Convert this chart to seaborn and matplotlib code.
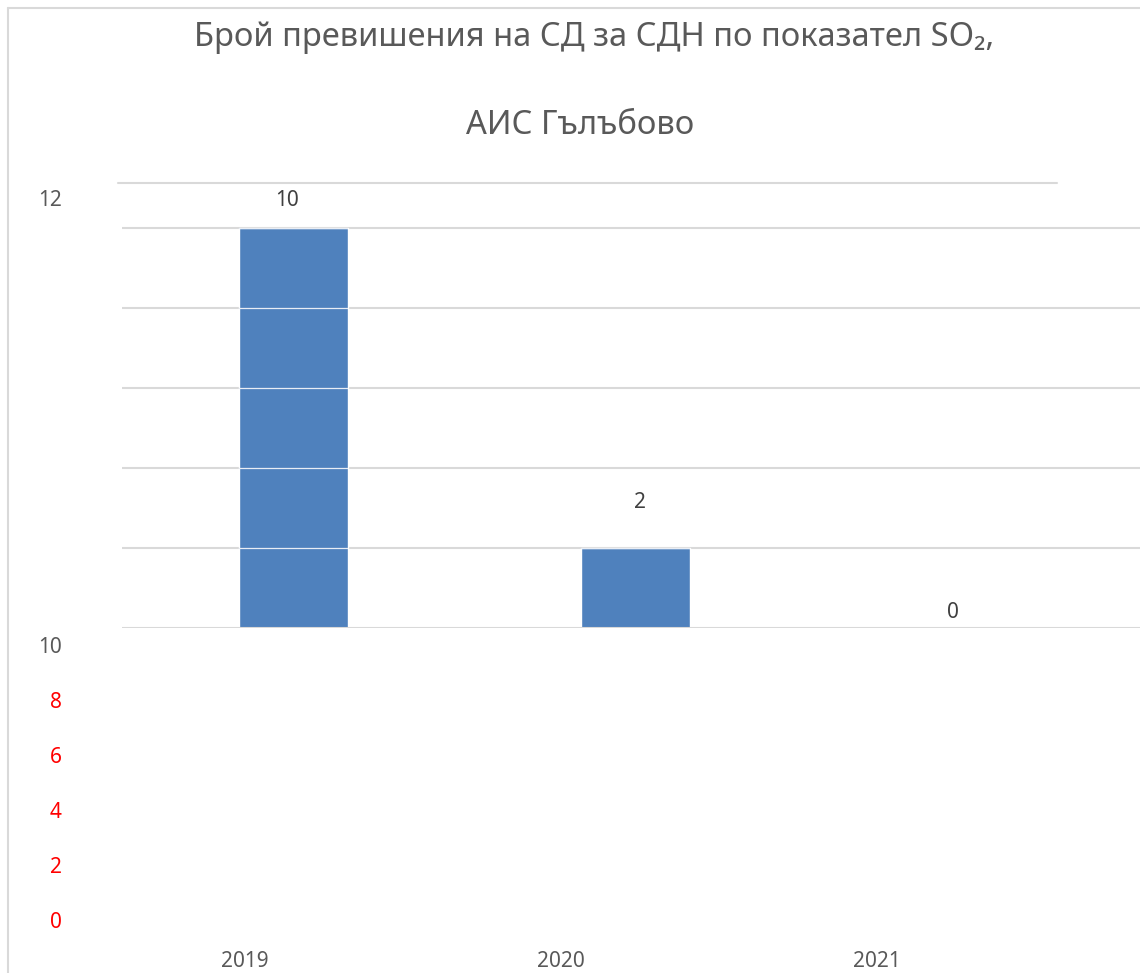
import matplotlib
matplotlib.use("Agg")
import matplotlib.pyplot as plt
import seaborn as sns
import pandas as pd
from matplotlib.lines import Line2D

# ---- data ----
years = ["2019", "2020", "2021"]
exceedances = [10, 2, 0]
grid_values = [0, 2, 4, 6, 8, 10]
axis_labels = ["0", "2", "4", "6", "8", "10"]
top_label = "12"
title_line1 = "Брой превишения на СД за СДН по показател SO₂,"
title_line2 = "АИС Гълъбово"

sns.set_theme(style="white")
plt.rcParams["font.family"] = ["Noto Sans", "DejaVu Sans"]

W, H = 1140, 973
fig = plt.figure(figsize=(W / 100, H / 100), dpi=100)
fig.patch.set_facecolor("white")

def fx(px):
    return px / W

def fy(py):
    return (H - py) / H

BAR = "#4f81bd"
GRID = "#d9d9d9"
TXT = "#595959"
FS = 15

# main plot area (bars + gridlines)
x_left, x_right, y_zero, y_top = 122, 1140, 628, 183
ax = fig.add_axes([fx(x_left), fy(y_zero), fx(x_right - x_left), (y_zero - y_top) / H])
df = pd.DataFrame({"year": years, "count": exceedances})
sns.barplot(data=df, x="year", y="count", color=BAR, width=0.316, ax=ax,
            saturation=1, zorder=2)
ax.set_ylim(0, (y_zero - y_top) / 40)
xmin = -(293.5 - x_left) / 342
ax.set_xlim(xmin, xmin + (x_right - x_left) / 342)
for s in ax.spines.values():
    s.set_visible(False)
ax.set_xticks([])
ax.set_yticks([])
ax.set_xlabel("")
ax.set_ylabel("")
ax.patch.set_alpha(0)

for g in grid_values:
    z = 3 if g == 0 else 1
    ax.axhline(g, color=GRID, lw=1.5, zorder=z)
# light lines over the bars
for p in ax.patches:
    for g in grid_values[1:]:
        ln = ax.axhline(g, color="#e8edf5", lw=0.9, zorder=3)
        ln.set_clip_path(p)
# top line
ax.axhline(ax.get_ylim()[1], xmin=-4 / (x_right - x_left), xmax=(1057 - x_left) / (x_right - x_left),
           color=GRID, lw=1.5, clip_on=False, zorder=1)

# data labels
label_pos = [(287, 200), (640, 503), (953, 612)]
for v, (px, py) in zip(exceedances, label_pos):
    xd = (px - x_left) / 342 + xmin
    yd = (y_zero - py) / 40
    ax.text(xd, yd, str(v), ha="center", va="center", fontsize=FS, color="#404040")

# secondary (displaced) axis with tick labels
a2_left, a2_bottom, a2_top = 70, 920, 645
ax2 = fig.add_axes([fx(a2_left), fy(a2_bottom), fx(W - a2_left), (a2_bottom - a2_top) / H])
ax2.patch.set_alpha(0)
ax2.set_ylim(0, 10)
x2min = -(245 - a2_left) / 316
ax2.set_xlim(x2min, x2min + (W - a2_left) / 316)
ax2.set_xticks(range(len(years)))
ax2.set_xticklabels(years)
ax2.set_yticks(grid_values)
ax2.set_yticklabels(axis_labels)
for s in ax2.spines.values():
    s.set_visible(False)
ax2.tick_params(axis="both", length=0, labelsize=FS, colors=TXT)
ax2.tick_params(axis="x", pad=22)
ax2.tick_params(axis="y", pad=6)
for lab in ax2.get_yticklabels():
    if lab.get_text() != "10":
        lab.set_color("#ff0000")

fig.text(fx(62), fy(200), top_label, ha="right", va="center", fontsize=FS, color=TXT)

# title
fig.text(fx(594), fy(38), title_line1, ha="center", va="center", fontsize=23.5, color=TXT)
fig.text(fx(580), fy(125), title_line2, ha="center", va="center", fontsize=23.5, color=TXT)

# chart border (left and top)
fig.add_artist(Line2D([fx(8), fx(8)], [fy(8), fy(973)], color=GRID, lw=1.5))
fig.add_artist(Line2D([fx(8), fx(1140)], [fy(8), fy(8)], color=GRID, lw=1.5))

fig.savefig("out.png", dpi=100, facecolor="white")
